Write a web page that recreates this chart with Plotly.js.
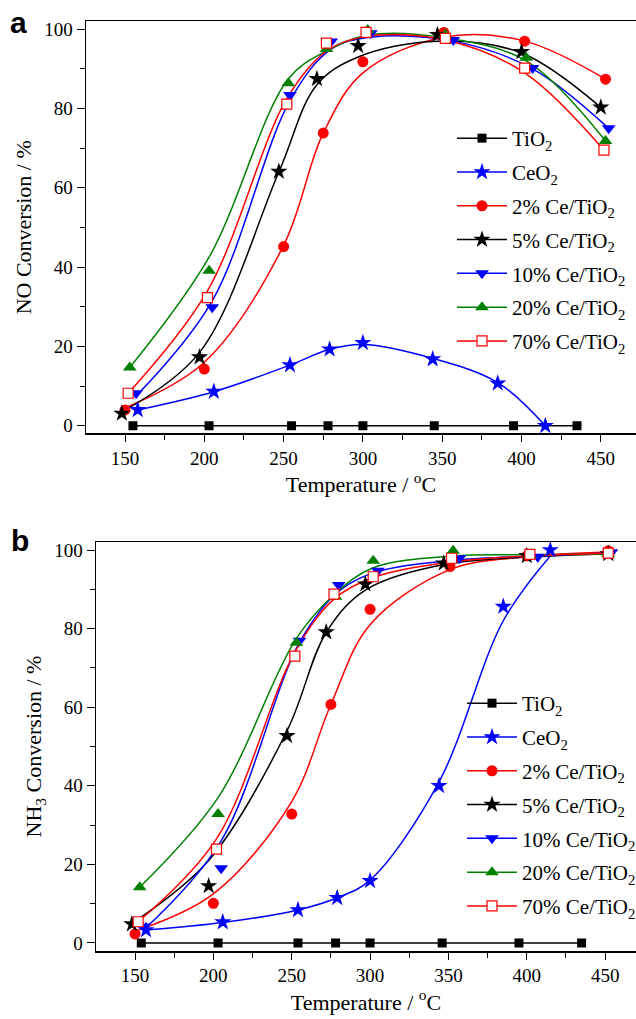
<!DOCTYPE html>
<html>
<head>
<meta charset="utf-8">
<script src="https://cdn.plot.ly/plotly-3.0.1.min.js"></script>
<style>html,body{margin:0;padding:0;background:#fff;}#chart{width:636px;height:1019px;}</style>
</head>
<body>
<div id="chart"></div>
<script>
// ---------- Panel a : NO conversion (%) vs temperature (°C) ----------
const a_TiO2_T = [155, 203, 255, 278, 300, 345, 395, 435];
const a_TiO2_Y = [0, 0, 0, 0, 0, 0, 0, 0];
const a_TiO2_Fit = [0, 0, 0, 0, 0, 0, 0, 0];

const a_CeO2_T = [158, 206, 254, 279, 300, 344, 385, 415];
const a_CeO2_Y = [4.0, 8.6, 15.3, 19.3, 20.9, 16.8, 10.7, 0];
const a_CeO2_Fit = [4.0, 8.6, 15.3, 19.3, 20.5, 17.0, 10.9, 0];

const a_Ce2_T = [150, 200, 250, 275, 300, 351, 402, 453];
const a_Ce2_Y = [4.0, 14.3, 45.2, 73.8, 91.8, 99.2, 97.0, 87.4];
const a_Ce2_Fit = [4.5, 16.0, 45.5, 73.8, 89.0, 98.0, 97.0, 87.4];

const a_Ce5_T = [148, 197, 247, 271, 297, 347, 400, 450];
const a_Ce5_Y = [3.1, 17.3, 64.1, 87.5, 95.8, 98.6, 94.3, 80.3];
const a_Ce5_Fit = [3.5, 18.5, 64.0, 86.0, 93.0, 97.0, 94.0, 80.3];

const a_Ce10_T = [157, 205, 254, 280, 305, 357, 407, 455];
const a_Ce10_Y = [8.2, 29.9, 83.4, 96.9, 99.0, 97.3, 90.2, 75.0];
const a_Ce10_Fit = [7.5, 31.5, 82.0, 95.0, 98.0, 97.0, 90.0, 75.0];

const a_Ce20_T = [153, 203, 253, 277, 303, 352, 403, 453];
const a_Ce20_Y = [14.7, 39.1, 86.4, 95.0, 99.8, 98.6, 92.8, 71.8];
const a_Ce20_Fit = [14.7, 42.5, 87.5, 94.5, 98.5, 97.8, 92.0, 71.8];

const a_Ce70_T = [152, 202, 252, 277, 302, 352, 402, 452];
const a_Ce70_Y = [8.2, 32.3, 81.1, 96.5, 99.2, 97.7, 90.2, 69.5];
const a_Ce70_Fit = [8.2, 34.0, 82.5, 94.5, 98.2, 97.3, 89.0, 69.5];

// ---------- Panel b : NH3 conversion (%) vs temperature (°C) ----------
const b_TiO2_T = [154, 203, 254, 278, 300, 346, 395, 435];
const b_TiO2_Y = [0, 0, 0, 0, 0, 0, 0, 0];
const b_TiO2_Fit = [0, 0, 0, 0, 0, 0, 0, 0];

const b_CeO2_T = [157, 206, 254, 279, 300, 344, 385, 415];
const b_CeO2_Y = [3.3, 5.3, 8.4, 11.5, 15.8, 40.0, 85.6, 100];
const b_CeO2_Fit = [3.3, 5.2, 8.4, 11.5, 16.0, 41.0, 82.0, 98.5];

const b_Ce2_T = [150, 200, 250, 275, 300, 351, 400, 452];
const b_Ce2_Y = [2.3, 10.1, 32.8, 60.7, 84.9, 95.8, 98.5, 99.8];
const b_Ce2_Fit = [3.0, 12.5, 36.0, 60.7, 81.0, 95.0, 98.3, 99.5];

const b_Ce5_T = [148, 197, 247, 272, 297, 347, 400, 452];
const b_Ce5_Y = [4.8, 14.5, 52.7, 79.1, 91.3, 96.6, 98.5, 99.0];
const b_Ce5_Fit = [5.0, 21.0, 54.0, 79.0, 89.8, 96.3, 98.2, 99.0];

const b_Ce10_T = [156, 205, 255, 280, 305, 357, 407, 454];
const b_Ce10_Y = [4.2, 19.0, 76.9, 91.1, 94.7, 97.9, 98.3, 99.4];
const b_Ce10_Fit = [3.5, 26.0, 76.5, 89.5, 94.5, 97.5, 98.5, 99.3];

const b_Ce20_T = [153, 203, 253, 278, 302, 353, 402, 452];
const b_Ce20_Y = [14.2, 32.8, 76.4, 88.1, 97.3, 99.8, 98.7, 99.0];
const b_Ce20_Fit = [14.2, 37.0, 77.5, 89.0, 95.5, 98.5, 98.8, 99.0];

const b_Ce70_T = [152, 202, 252, 277, 302, 352, 402, 452];
const b_Ce70_Y = [5.4, 23.9, 73.0, 88.8, 93.2, 97.9, 98.9, 99.2];
const b_Ce70_Fit = [5.4, 26.5, 74.0, 87.5, 93.0, 97.0, 98.5, 99.2];

const seriesNames = ['TiO<sub>2</sub>', 'CeO<sub>2</sub>', '2% Ce/TiO<sub>2</sub>', '5% Ce/TiO<sub>2</sub>',
                     '10% Ce/TiO<sub>2</sub>', '20% Ce/TiO<sub>2</sub>', '70% Ce/TiO<sub>2</sub>'];

// ---------- styles ----------
const styles = [
  {color: '#000000', symbol: 'square', size: 9, open: false},
  {color: '#0000ff', symbol: 'star', size: 13, open: false},
  {color: '#ff0000', symbol: 'circle', size: 11, open: false},
  {color: '#000000', symbol: 'star', size: 13, open: false},
  {color: '#0000ff', symbol: 'triangle-down', size: 12, open: false},
  {color: '#008000', symbol: 'triangle-up', size: 12, open: false},
  {color: '#ff0000', symbol: 'square', size: 10, open: true}
];

const panelA = [
  [a_TiO2_T, a_TiO2_Y, a_TiO2_Fit], [a_CeO2_T, a_CeO2_Y, a_CeO2_Fit], [a_Ce2_T, a_Ce2_Y, a_Ce2_Fit],
  [a_Ce5_T, a_Ce5_Y, a_Ce5_Fit], [a_Ce10_T, a_Ce10_Y, a_Ce10_Fit], [a_Ce20_T, a_Ce20_Y, a_Ce20_Fit],
  [a_Ce70_T, a_Ce70_Y, a_Ce70_Fit]
];
const panelB = [
  [b_TiO2_T, b_TiO2_Y, b_TiO2_Fit], [b_CeO2_T, b_CeO2_Y, b_CeO2_Fit], [b_Ce2_T, b_Ce2_Y, b_Ce2_Fit],
  [b_Ce5_T, b_Ce5_Y, b_Ce5_Fit], [b_Ce10_T, b_Ce10_Y, b_Ce10_Fit], [b_Ce20_T, b_Ce20_Y, b_Ce20_Fit],
  [b_Ce70_T, b_Ce70_Y, b_Ce70_Fit]
];

const FONT = 'Liberation Serif, Times New Roman, serif';
const traces = [];
function markerOf(s) {
  return {symbol: s.symbol, size: s.size, color: s.open ? '#ffffff' : s.color,
          line: {color: s.color, width: s.open ? 1.2 : 0}};
}
function addPanel(panel, xa, ya, legendId) {
  const fits = [], marks = [], legs = [];
  panel.forEach((d, i) => {
    const s = styles[i];
    fits.push({x: d[0], y: d[2], mode: 'lines', xaxis: xa, yaxis: ya, showlegend: false, hoverinfo: 'skip',
               line: {color: s.color, width: 1.5, shape: 'spline', smoothing: 1}});
    marks.push({x: d[0], y: d[1], mode: 'markers', xaxis: xa, yaxis: ya, showlegend: false,
                marker: markerOf(s)});
    legs.push({x: [null], y: [null], mode: 'lines+markers', xaxis: xa, yaxis: ya, name: seriesNames[i],
               legend: legendId, legendgroup: legendId + i, showlegend: true,
               line: {color: s.color, width: 1.5}, marker: markerOf(s)});
  });
  traces.push(...fits, ...marks, ...legs);
}
addPanel(panelA, 'x', 'y', 'legend');
addPanel(panelB, 'x2', 'y2', 'legend2');

const W = 636, H = 1019;
function xAxis(domain, range, anchor, title) {
  return {domain: domain, range: range, anchor: anchor, showgrid: false, zeroline: false,
          showline: true, linecolor: '#000', linewidth: 1.5, mirror: true,
          ticks: 'outside', ticklen: 7, tickwidth: 1, tickcolor: '#000', tick0: 150, dtick: 50,
          minor: {ticks: 'outside', ticklen: 5, tickwidth: 1, tickcolor: '#000', dtick: 25, tick0: 150, showgrid: false},
          tickfont: {family: FONT, size: 19, color: '#000'},
          title: {text: title, font: {family: FONT, size: 22, color: '#000'}, standoff: 7}};
}
function yAxis(domain, range, anchor, title) {
  return {domain: domain, range: range, anchor: anchor, showgrid: false, zeroline: false,
          showline: true, linecolor: '#000', linewidth: 1.5, mirror: true,
          ticks: 'outside', ticklen: 8, tickwidth: 1, tickcolor: '#000', tick0: 0, dtick: 20,
          minor: {ticks: 'outside', ticklen: 5, tickwidth: 1, tickcolor: '#000', dtick: 10, tick0: 0, showgrid: false},
          tickfont: {family: FONT, size: 19, color: '#000'},
          title: {text: title, font: {family: FONT, size: 22, color: '#000'}, standoff: 6}};
}
function topAxis(overlay, range, anchor) {
  return {overlaying: overlay, range: range, anchor: anchor, side: 'top', showgrid: false, zeroline: false,
          showline: false, showticklabels: false, ticks: 'inside', ticklen: 4, tickwidth: 1, tickcolor: '#000',
          tick0: 150, dtick: 25};
}
const xRangeA = [125.4, 472.2], xRangeB = [125.1, 469.7];
const legendBase = {xanchor: 'left', yanchor: 'top', bgcolor: 'rgba(0,0,0,0)', borderwidth: 0,
                    font: {family: FONT, size: 21, color: '#000'}, traceorder: 'grouped',
                    tracegroupgap: 3.5, itemwidth: 50};

const layout = {
  width: W, height: H, margin: {l: 0, r: 0, t: 0, b: 0, autoexpand: false},
  paper_bgcolor: '#fff', plot_bgcolor: 'rgba(0,0,0,0)', showlegend: true,
  font: {family: FONT, color: '#000'},
  xaxis: xAxis([86 / W, 1], xRangeA, 'y', 'Temperature / <sup>o</sup>C'),
  yaxis: yAxis([1 - 433.3 / H, 1 - 21.3 / H], [-1.9, 102], 'x', 'NO Conversion / %'),
  xaxis2: xAxis([96 / W, 1], xRangeB, 'y2', 'Temperature / <sup>o</sup>C'),
  yaxis2: yAxis([1 - 951 / H, 1 - 542 / H], [-2.04, 102.04], 'x2', 'NH<sub>3</sub> Conversion / %'),
  xaxis3: topAxis('x', xRangeA, 'y'),
  xaxis4: topAxis('x2', xRangeB, 'y2'),
  legend: Object.assign({x: 452 / W, y: 1 - 118 / H}, legendBase),
  legend2: Object.assign({x: 462 / W, y: 1 - 683 / H}, legendBase),
  annotations: [
    {text: '<b>a</b>', xref: 'paper', yref: 'paper', x: 18 / W, y: 1 - 22 / H, xanchor: 'center', yanchor: 'middle',
     showarrow: false, font: {family: 'Liberation Sans, Arial, sans-serif', size: 30, color: '#000'}},
    {text: '<b>b</b>', xref: 'paper', yref: 'paper', x: 20 / W, y: 1 - 540 / H, xanchor: 'center', yanchor: 'middle',
     showarrow: false, font: {family: 'Liberation Sans, Arial, sans-serif', size: 30, color: '#000'}}
  ]
};

Plotly.newPlot('chart', traces, layout, {staticPlot: true, displayModeBar: false});
</script>
</body>
</html>
